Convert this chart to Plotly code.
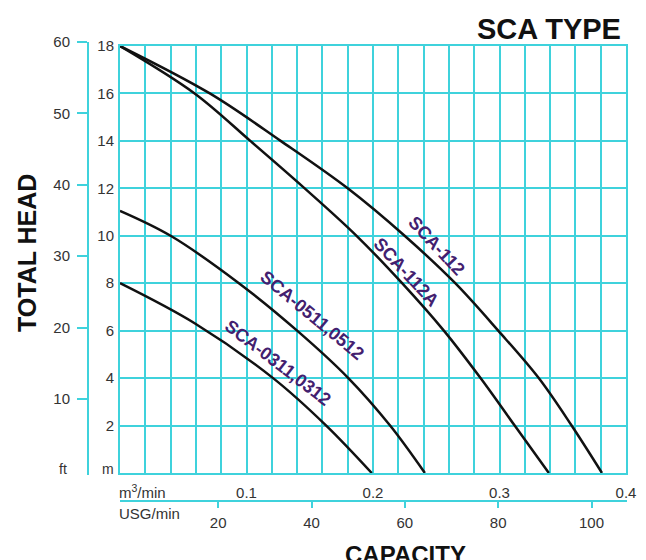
import plotly.graph_objects as go

# ---------------- data ----------------
# capacity in m3/min, total head in m
q_112 = [0, 0.071, 0.127, 0.180, 0.225, 0.265, 0.299, 0.331, 0.357, 0.381]
h_112 = [18, 16, 14, 12, 10, 8, 6, 4, 2, 0]

q_112a = [0, 0.059, 0.103, 0.146, 0.187, 0.223, 0.256, 0.285, 0.312, 0.339]
h_112a = [18, 16, 14, 12, 10, 8, 6, 4, 2, 0]

q_0511 = [0, 0.040, 0.094, 0.140, 0.1805, 0.2135, 0.241]
h_0511 = [11.05, 10, 8, 6, 4, 2, 0]

q_0311 = [0, 0.0593, 0.121, 0.163, 0.199]
h_0311 = [8, 6.3, 4, 2, 0]

curve_names = ["SCA-112", "SCA-112A", "SCA-0511,0512", "SCA-0311,0312"]
label_q = [0.2504, 0.2261, 0.1515, 0.1251]
label_h = [9.57, 8.46, 6.65, 4.65]
label_angle = [47, 47, 39.6, 37.5]

m3_ticks = [0.1, 0.2, 0.3, 0.4]
m_ticks = [2, 4, 6, 8, 10, 12, 14, 16, 18]
ft_ticks = [10, 20, 30, 40, 50, 60]
usg_ticks = [20, 40, 60, 80, 100]

# ---------------- styling ----------------
W, H = 646, 560
OFF = 8  # page body margin
L, R, T, B = 52, 18, 34, 38
GRID = "#3fd2dc"
TXT = "#333333"
LABEL = "#43206f"
FONT = "Liberation Sans, Arial, sans-serif"


def px_x(px):
    return (px - OFF - L) / (W - L - R)


def px_y(py):
    return (H - B - (py - OFF)) / (H - T - B)


fig = go.Figure()
for q, h in [(q_112, h_112), (q_112a, h_112a), (q_0511, h_0511), (q_0311, h_0311)]:
    fig.add_trace(go.Scatter(x=q, y=h, mode="lines",
                             line=dict(color="#111111", width=2.5, shape="spline", smoothing=1.0),
                             hoverinfo="skip", showlegend=False))
# helpers so that the secondary axes get drawn
fig.add_trace(go.Scatter(x=[None], y=[None], xaxis="x3", yaxis="y2", showlegend=False))
fig.add_trace(go.Scatter(x=[None], y=[None], xaxis="x2", yaxis="y3", showlegend=False))

x_dom = [px_x(120), px_x(626)]
y_dom = [px_y(473), px_y(46)]

fig.update_layout(
    width=W, height=H,
    margin=dict(l=L, r=R, t=T, b=B, autoexpand=False),
    paper_bgcolor="white", plot_bgcolor="rgba(0,0,0,0)",
    font=dict(family=FONT, color=TXT, size=15),
    xaxis=dict(domain=x_dom, range=[0, 0.4], anchor="y", automargin=False,
               tickmode="array", tickvals=m3_ticks, ticktext=[str(v) for v in m3_ticks],
               showgrid=True, gridcolor=GRID, gridwidth=1.5,
               minor=dict(tickmode="linear", tick0=0, dtick=0.02, showgrid=True,
                          gridcolor=GRID, gridwidth=1.5, ticks=""),
               showline=True, linecolor=GRID, linewidth=2, mirror=True,
               ticks="", ticklabelstandoff=5, zeroline=False,
               tickfont=dict(size=15, color=TXT)),
    yaxis=dict(domain=y_dom, range=[0, 18], anchor="x", automargin=False,
               tickmode="array", tickvals=m_ticks,
               showgrid=True, gridcolor=GRID, gridwidth=1.5,
               showline=True, linecolor=GRID, linewidth=2, mirror=True,
               ticks="", ticklabelstandoff=1, zeroline=False,
               tickfont=dict(size=15, color=TXT)),
    yaxis2=dict(anchor="free", position=px_x(88), domain=[px_y(475), 1],
                range=[-0.64, 60], side="left", automargin=False,
                tickmode="array", tickvals=ft_ticks,
                ticks="outside", ticklen=10, tickwidth=2, tickcolor=GRID,
                showline=True, linecolor=GRID, linewidth=2,
                showgrid=False, zeroline=False, ticklabelstandoff=4,
                tickfont=dict(size=15, color=TXT)),
    xaxis3=dict(domain=x_dom, anchor="y2", visible=False, range=[0, 1], automargin=False),
    xaxis2=dict(anchor="free", position=px_y(501), domain=[px_x(120), px_x(627)],
                range=[-1.03, 107.6], side="bottom", automargin=False,
                tickmode="array", tickvals=usg_ticks,
                ticks="outside", ticklen=6, tickwidth=2, tickcolor=GRID,
                showline=True, linecolor=GRID, linewidth=2,
                showgrid=False, zeroline=False, ticklabelstandoff=2,
                tickfont=dict(size=15, color=TXT)),
    yaxis3=dict(domain=y_dom, anchor="x2", visible=False, range=[0, 1], automargin=False),
)

ann = []
for name, q, h, a in zip(curve_names, label_q, label_h, label_angle):
    ann.append(dict(x=q, y=h, xref="x", yref="y", text=name, showarrow=False,
                    xanchor="center", yanchor="middle",
                    textangle=a, font=dict(family=FONT, size=18, color=LABEL, weight="bold")))

paper_ann = [
    dict(x=px_x(63), y=px_y(469), text="ft", font=dict(size=14, color=TXT)),
    dict(x=px_x(108), y=px_y(469), text="m", font=dict(size=14, color=TXT)),
    dict(x=px_x(117), y=px_y(491), xanchor="left", text="m<sup>3</sup>/min", font=dict(size=15, color=TXT)),
    dict(x=px_x(117), y=px_y(513), xanchor="left", text="USG/min", font=dict(size=15, color=TXT)),
    dict(x=px_x(405), y=px_y(554), text="CAPACITY", font=dict(size=24, color="#111111", weight="bold")),
    dict(x=px_x(27), y=px_y(253), text="TOTAL HEAD", textangle=-90,
         font=dict(size=25, color="#111111", weight="bold")),
    dict(x=px_x(623), y=px_y(29), xanchor="right", text="SCA TYPE",
         font=dict(size=29, color="#111111", weight="bold")),
]
for a in paper_ann:
    a.setdefault("xanchor", "center")
    a.setdefault("yanchor", "middle")
    a["xref"] = "paper"
    a["yref"] = "paper"
    a["showarrow"] = False
fig.update_layout(annotations=ann + paper_ann)

fig.write_html("out.html")
